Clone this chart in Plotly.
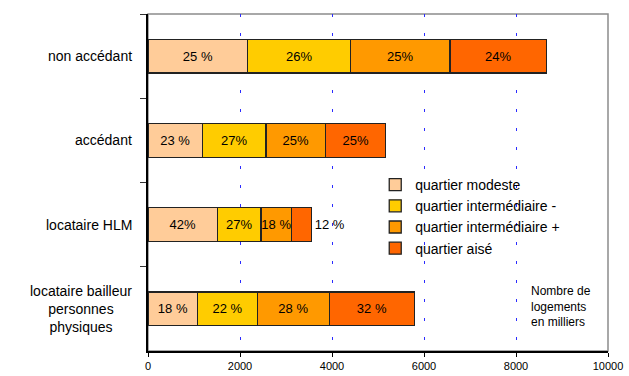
import plotly.graph_objects as go

categories = ["non accédant", "accédant", "locataire HLM", "locataire bailleur personnes physiques"]
category_labels = ["non accédant", "accédant", "locataire HLM", "locataire bailleur<br>personnes<br>physiques"]

series_names = ["quartier modeste", "quartier intermédiaire -", "quartier intermédiaire +", "quartier aisé"]
modeste = [2167, 1188, 1507, 1080]
interm_moins = [2239, 1377, 950, 1297]
interm_plus = [2159, 1297, 666, 1565]
aise = [2102, 1305, 435, 1848]

lbl_modeste = ["25 %", "23 %", "42%", "18 %"]
lbl_interm_moins = ["26%", "27%", "27%", "22 %"]
lbl_interm_plus = ["25%", "25%", "18 %", "28 %"]
lbl_aise = ["24%", "25%", "12 %", "32 %"]

colors = ["#FFCC99", "#FFCC00", "#FF9900", "#FF6600"]
values = [modeste, interm_moins, interm_plus, aise]
labels = [lbl_modeste, lbl_interm_moins, lbl_interm_plus, lbl_aise]

x_ticks = [0, 2000, 4000, 6000, 8000, 10000]

FONT = "Liberation Sans, Arial, sans-serif"

fig = go.Figure()
for i, (name, vals, lbl, col) in enumerate(zip(series_names, values, labels, colors)):
    if i == 3:
        tpos = ["inside", "inside", "outside", "inside"]
    else:
        tpos = "inside"
    fig.add_trace(go.Bar(
        y=categories, x=vals, orientation="h", name=name,
        marker=dict(color=col, line=dict(color="#222222", width=1.3)),
        text=lbl, textposition=tpos, insidetextanchor="middle", textangle=0,
        textfont=dict(family=FONT, size=13, color="black"),
        outsidetextfont=dict(family=FONT, size=13, color="black"),
        constraintext="none", cliponaxis=False,
        legendgroup=f"g{i}",
    ))

# category labels as centered multi-line annotations
for cat, lab in zip(categories, category_labels):
    fig.add_annotation(x=0, xref="paper", y=cat, yref="y", text=lab,
                       xanchor="right", yanchor="middle", align="center",
                       xshift=-14, showarrow=False,
                       font=dict(family=FONT, size=14, color="black"))

fig.add_annotation(x=8280, xref="x", y=categories[3], yref="y",
                   text="Nombre de<br>logements<br>en milliers",
                   xanchor="left", yanchor="middle", align="left", yshift=2,
                   showarrow=False, font=dict(family=FONT, size=12, color="black"))

# grey frame for plot area
fig.add_shape(type="rect", xref="paper", yref="paper", x0=0, x1=1, y0=0, y1=1,
              line=dict(color="#8C8C8C", width=1.5), layer="below")

fig.update_layout(
    width=629, height=376,
    margin=dict(l=148, r=21, t=14, b=25, autoexpand=False),
    barmode="stack", bargap=0.6,
    plot_bgcolor="white", paper_bgcolor="white",
    showlegend=True,
    legend=dict(x=0.494, y=0.54, xanchor="left", yanchor="top",
                font=dict(family=FONT, size=14, color="black"),
                bgcolor="rgba(0,0,0,0)", tracegroupgap=4.5, traceorder="normal",
                itemwidth=30),
    font=dict(family=FONT, color="black"),
)

fig.update_xaxes(range=[0, 10000], tickvals=x_ticks, ticktext=[str(v) for v in x_ticks],
                 automargin=False,
                 showgrid=True, gridcolor="#2B2BFF", gridwidth=1, griddash="3px,16px",
                 zeroline=False, showline=True, linecolor="black", linewidth=1.5,
                 ticks="outside", ticklen=4, tickcolor="black", tickwidth=1,
                 tickfont=dict(family=FONT, size=11, color="black"))
fig.update_yaxes(autorange="reversed", type="category", tickson="boundaries",
                 automargin=False,
                 ticks="outside", ticklen=6, tickcolor="#333333", tickwidth=1,
                 showticklabels=False, showgrid=False, zeroline=False,
                 showline=True, linecolor="black", linewidth=1.5)

fig.write_html("out.html")
